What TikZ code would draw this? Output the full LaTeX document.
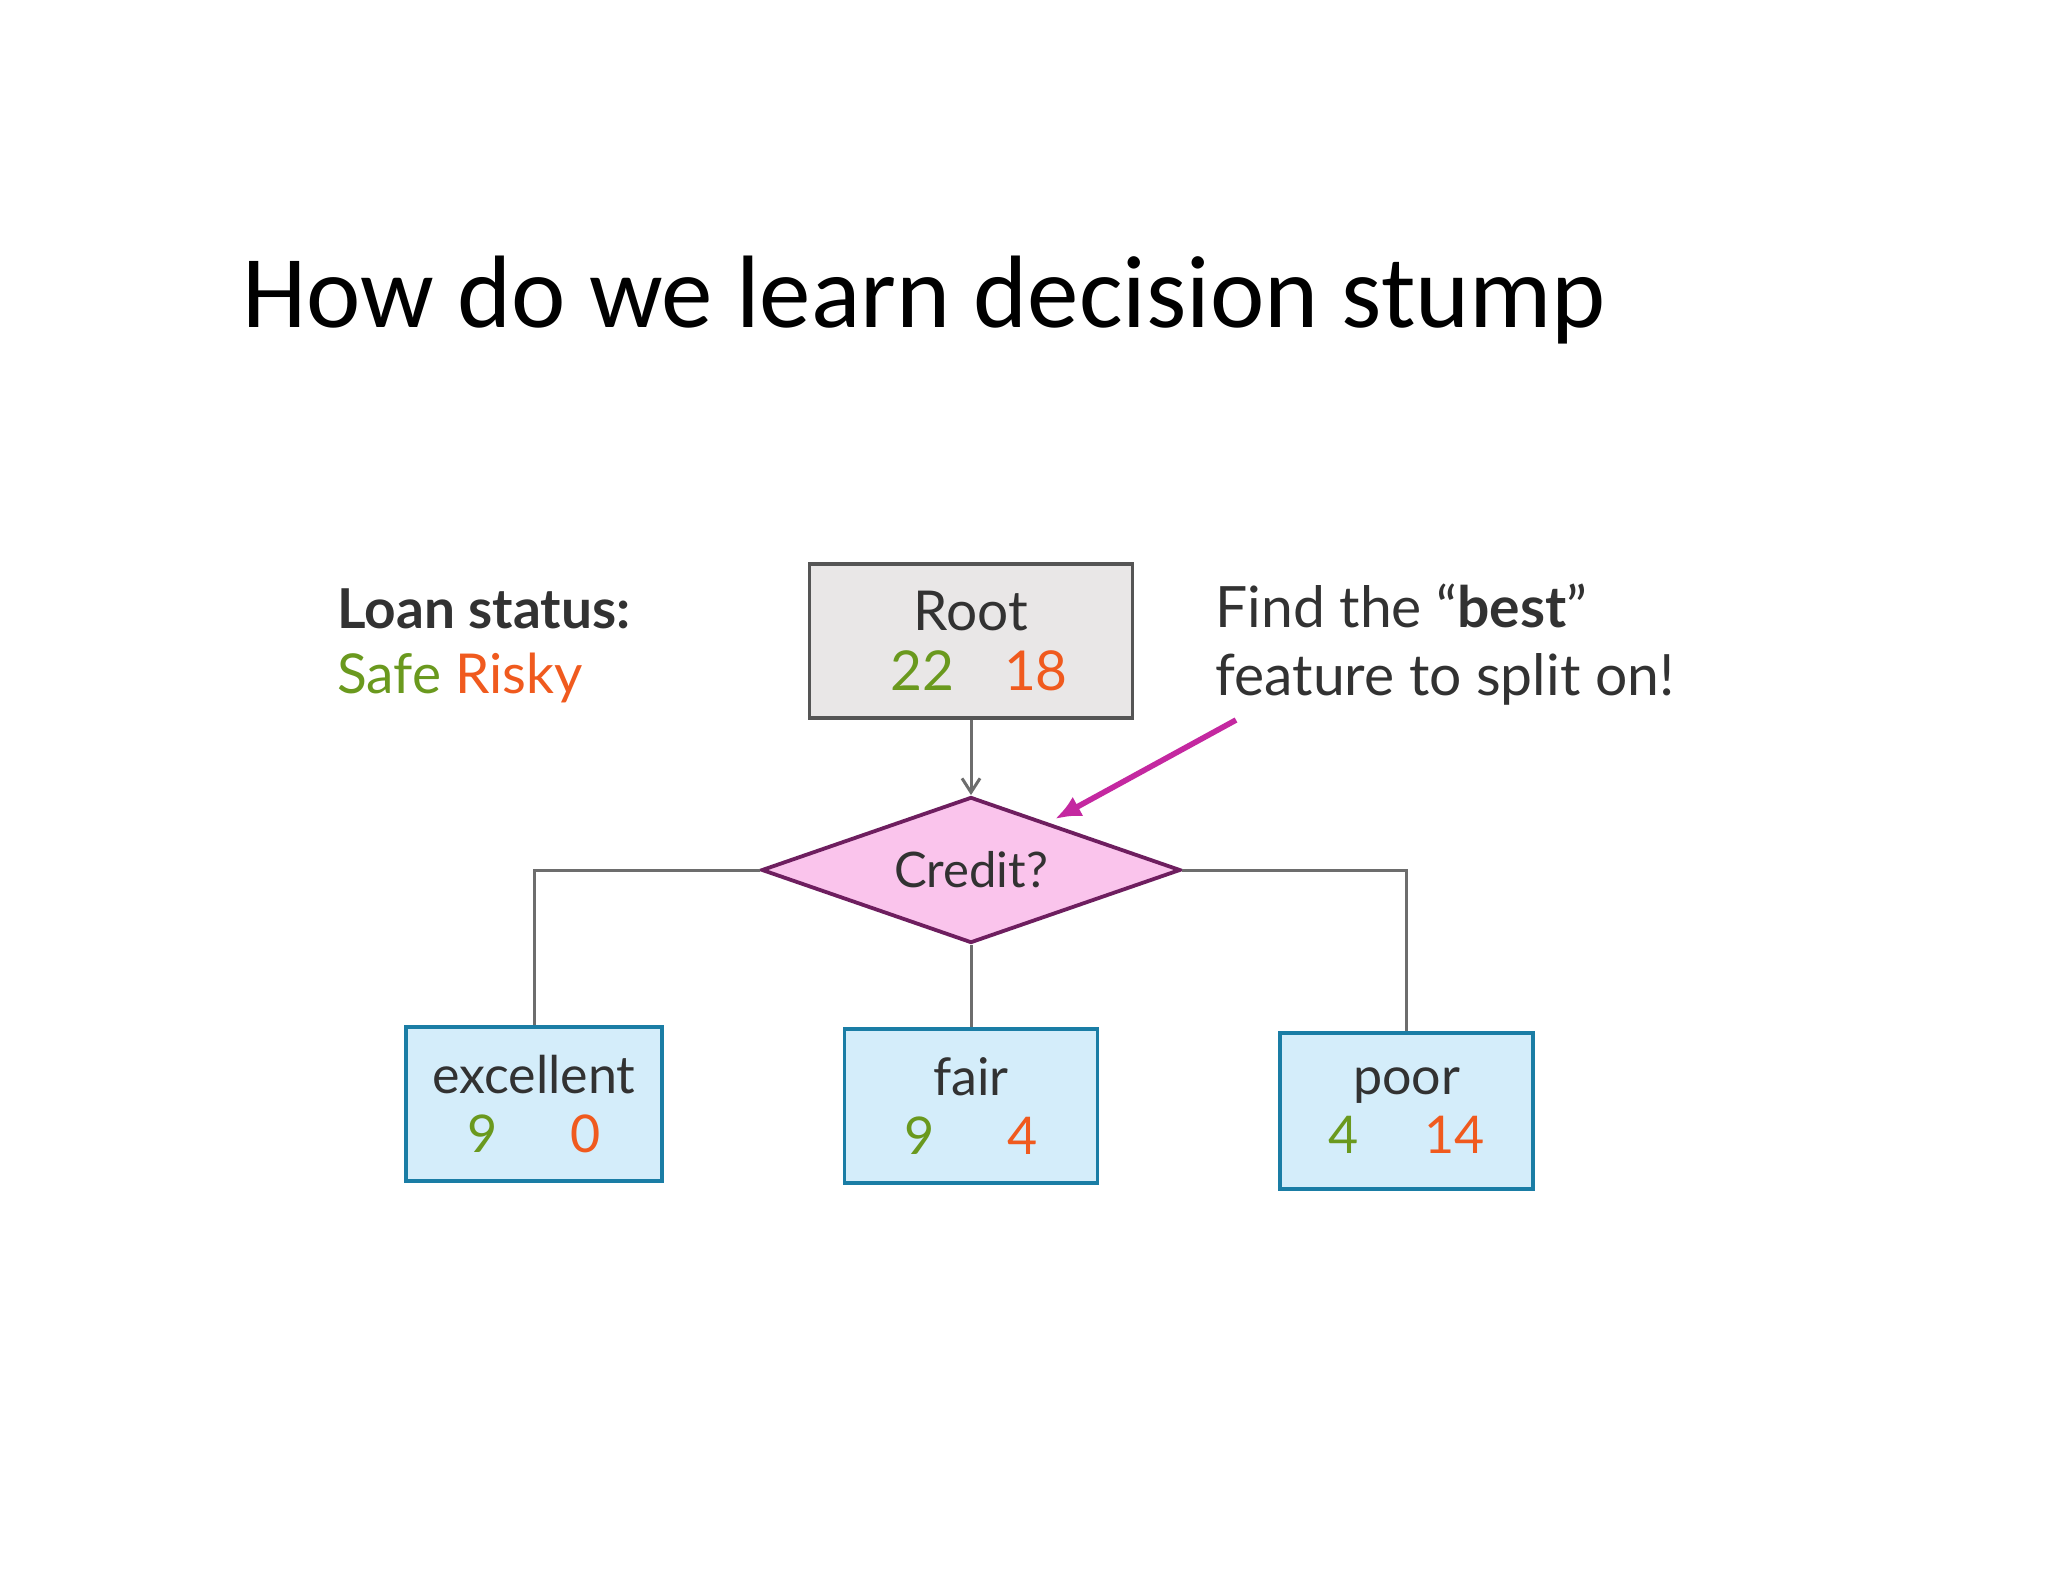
\documentclass[tikz,border=0pt]{standalone}
\usepackage{fontspec}
\setmainfont{Lato}
\newfontfamily\titlefont{Carlito}
\usetikzlibrary{shapes.geometric,arrows.meta}
\definecolor{sgreen}{RGB}{106,153,30}
\definecolor{rorange}{RGB}{240,90,30}
\definecolor{txt}{RGB}{50,50,50}
\definecolor{rootfill}{RGB}{233,231,231}
\definecolor{rootdraw}{RGB}{85,85,85}
\definecolor{leaffill}{RGB}{212,237,250}
\definecolor{leafdraw}{RGB}{26,125,165}
\definecolor{diafill}{RGB}{250,196,236}
\definecolor{diadraw}{RGB}{110,30,95}
\definecolor{pinkarrow}{RGB}{196,40,160}
\definecolor{conn}{RGB}{109,109,109}
\newcommand{\sg}[1]{{\color{sgreen}#1}}
\newcommand{\rk}[1]{{\color{rorange}#1}}
\tikzset{
  rootbox/.style={draw=rootdraw, fill=rootfill, line width=1.7pt, rectangle, inner sep=0pt,
    minimum width=161.5pt, minimum height=77pt, align=center, text=txt,
    font=\fontsize{27.5}{30}\selectfont},
  leafbox/.style={draw=leafdraw, fill=leaffill, line width=1.7pt, rectangle, inner sep=0pt,
    minimum width=127pt, minimum height=77pt, align=center, text=txt,
    font=\fontsize{26}{29.5}\selectfont},
  decision/.style={draw=diadraw, fill=diafill, line width=1.9pt, diamond, aspect=2.87, inner sep=0pt,
    minimum width=209.5pt, minimum height=73pt, text=txt, font=\fontsize{24.5}{28}\selectfont},
  connector/.style={draw=conn, line width=1.5pt},
  plaintext/.style={inner sep=0pt, align=left, text=txt}
}
\begin{document}
\begin{tikzpicture}[x=0.5pt, y=-0.5pt]
\useasboundingbox (0,0) rectangle (2048,1582);
\fill[white] (0,0) rectangle (2048,1582);
% title
\node[plaintext, anchor=west, text=black, font=\titlefont\fontsize{51.5}{60}\selectfont] (title) at (242,300) {How do we learn decision stump};
% legend
\node[plaintext, anchor=west, font=\fontsize{27.5}{32.5}\selectfont] (legend) at (337,646)
  {{\bfseries Loan status:}\\\sg{Safe} \rk{Risky}};
% note
\node[plaintext, anchor=west, font=\fontsize{28.5}{34}\selectfont] (note) at (1215,645)
  {Find the “\textbf{best}”\\feature to split on!};
% nodes
\node[rootbox] (root) at (971,641) {Root\\\hspace*{8pt}\sg{22}\hspace{25pt}\rk{18}};
\node[decision] (credit) at (971,870) {Credit?};
\node[leafbox, minimum width=128pt] (excellent) at (534,1104) {excellent\\\sg{9}\hspace{36pt}\rk{0}};
\node[leafbox, minimum width=126.5pt] (fair) at (971,1106) {fair\\\sg{9}\hspace{36pt}\rk{4}};
\node[leafbox, minimum width=126.5pt, minimum height=78pt] (poor) at (1406.5,1111) {poor\\\sg{4}\hspace{33pt}\rk{14}};
% connectors
\draw[connector, -{Straight Barb[length=7pt, width=9pt, line width=1.5pt]}] (root.south) -- (credit.north);
\draw[connector] (credit.west) -| (excellent.north);
\draw[connector] (credit.south) -- (fair.north);
\draw[connector] (credit.east) -| (poor.north);
% pointer arrow
\coordinate (ptail) at (1236,720);
\coordinate (ptip) at (1055,819);
\draw[draw=pinkarrow, line width=2.8pt, -{Latex[length=13pt, width=11pt]}] (ptail) -- (ptip);
\end{tikzpicture}
\end{document}
